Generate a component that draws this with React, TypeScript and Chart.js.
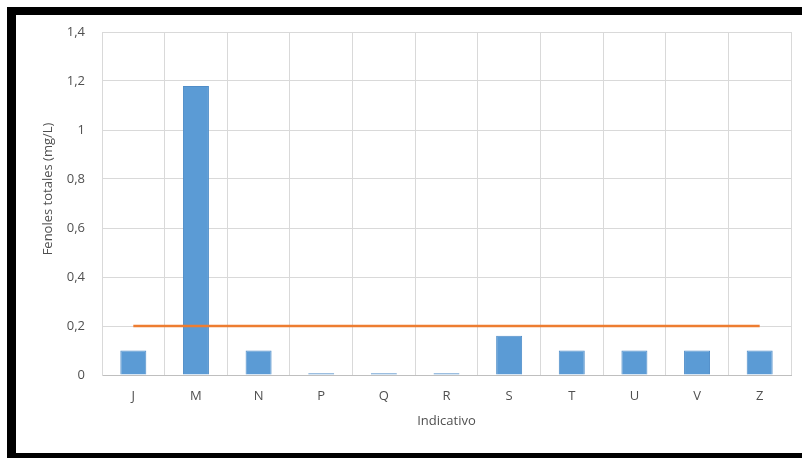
import React, { useEffect, useRef } from "react";
import { Chart, registerables } from "chart.js";

Chart.register(...registerables);

const categories = ["J", "M", "N", "P", "Q", "R", "S", "T", "U", "V", "Z"];
const fenolesValues = [0.1, 1.18, 0.1, 0.007, 0.007, 0.007, 0.16, 0.1, 0.1, 0.1, 0.1];
const limitValues = [0.2, 0.2, 0.2, 0.2, 0.2, 0.2, 0.2, 0.2, 0.2, 0.2, 0.2];
const yTicks = [0, 0.2, 0.4, 0.6, 0.8, 1, 1.2, 1.4];
const yTickLabels = ["0", "0,2", "0,4", "0,6", "0,8", "1", "1,2", "1,4"];
const yTitle = "Fenoles totales (mg/L)";
const xTitle = "Indicativo";

const FONT = "'Open Sans', sans-serif";
const TEXT = "#505050";

export default function App() {
  const ref = useRef<HTMLCanvasElement | null>(null);

  useEffect(() => {
    if (!ref.current) return;
    const yTitlePlugin = {
      id: "yTitlePlugin",
      afterDraw(chart: any) {
        const ctx = chart.ctx;
        ctx.save();
        ctx.translate(32, 174);
        ctx.rotate(-Math.PI / 2);
        ctx.font = `13px ${FONT}`;
        ctx.fillStyle = TEXT;
        ctx.textAlign = "center";
        ctx.textBaseline = "middle";
        ctx.fillText(yTitle, 0, 0);
        ctx.restore();
      },
    };
    const chart = new Chart(ref.current, {
      type: "bar",
      data: {
        labels: categories,
        datasets: [
          {
            type: "line",
            label: "Límite",
            data: limitValues,
            borderColor: "#ED7D31",
            backgroundColor: "#ED7D31",
            borderWidth: 2.5,
            pointRadius: 0,
            order: 0,
          } as any,
          {
            type: "bar",
            label: "Fenoles totales",
            data: fenolesValues,
            backgroundColor: "#5B9BD5",
            borderColor: "#4F8DC8",
            borderWidth: 1,
            categoryPercentage: 1,
            barPercentage: 0.415,
            order: 1,
          },
        ],
      },
      options: {
        animation: false,
        responsive: false,
        maintainAspectRatio: false,
        layout: { padding: { top: 17, right: 11, left: 0, bottom: 0 } },
        plugins: { legend: { display: false }, tooltip: { enabled: false } },
        scales: {
          x: {
            offset: true,
            grid: { offset: true, color: "#D9D9D9", drawTicks: false, lineWidth: 1 },
            border: { color: "#BFBFBF", width: 1 },
            ticks: { padding: 13, color: TEXT, font: { family: FONT, size: 13 } },
            title: {
              display: true,
              text: xTitle,
              color: TEXT,
              font: { family: FONT, size: 13 },
              padding: { top: 0, bottom: 24 },
            },
            afterFit: (s: any) => {
              s.height = 78;
            },
          },
          y: {
            min: 0,
            max: 1.4,
            grid: { color: "#D9D9D9", drawTicks: true, tickLength: 17, tickColor: "rgba(0,0,0,0)" },
            border: { color: "#D9D9D9" },
            afterBuildTicks: (s: any) => {
              s.ticks = yTicks.map((v) => ({ value: v }));
            },
            ticks: {
              padding: 0,
              color: TEXT,
              font: { family: FONT, size: 13 },
              callback: (_v: any, i: number) => yTickLabels[i],
            },
            afterFit: (s: any) => {
              s.width = 86;
            },
          },
        },
      },
      plugins: [yTitlePlugin],
    });
    return () => chart.destroy();
  }, []);

  return (
    <div
      style={{
        position: "fixed",
        left: 7,
        top: 7,
        width: 795,
        height: 454,
        boxSizing: "border-box",
        borderLeft: "9px solid #000",
        borderTop: "8px solid #000",
        borderBottom: "8px solid #000",
        background: "#fff",
      }}
    >
      <canvas ref={ref} width={786} height={438} style={{ display: "block", width: 786, height: 438 }} />
    </div>
  );
}
